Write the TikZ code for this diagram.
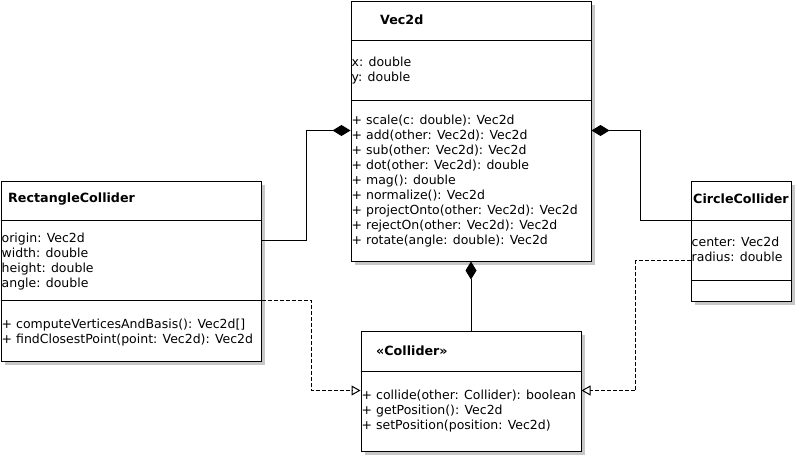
\documentclass[tikz,border=0pt]{standalone}
\usepackage{fontspec}
\setmainfont{DejaVu Sans}
\usetikzlibrary{arrows.meta,shadows}

\begin{document}
\begin{tikzpicture}[x=1pt, y=-1pt,
		classbox/.style={draw, line width=1pt, fill=white, anchor=north west, inner sep=0pt,
			drop shadow={shadow xshift=4pt, shadow yshift=-4pt, fill=black!22, opacity=1}},
		classname/.style={anchor=west, inner sep=0pt, font=\fontsize{12.7}{15}\selectfont\bfseries},
		members/.style={anchor=north west, inner sep=0pt, align=left, font=\fontsize{12.5}{15}\selectfont},
		sep/.style={line width=1pt},
		compo/.style={line width=1pt, -{Diamond[length=18pt, width=11pt]}},
		realize/.style={line width=1pt, dash pattern=on 4pt off 2pt, -{Triangle[open, length=9pt, width=10pt]}}]
			\useasboundingbox (0,0) rectangle (795,455);

			% class boxes
			\draw (350.5, 0.5) 		node[classbox, minimum width=240, minimum height=260] 	(vec) 	{};
			\draw (0.5, 180.5) 		node[classbox, minimum width=260, minimum height=180] 	(rect) 	{};
			\draw (690.5, 180.5) 	node[classbox, minimum width=100, minimum height=120] 	(circ) 	{};
			\draw (360.5, 330.5) 	node[classbox, minimum width=220, minimum height=120] 	(coll) 	{};

			\draw[sep] ([yshift=-40]vec.north west) -- ([yshift=-40]vec.north east);
			\draw[sep] ([yshift=-100]vec.north west) -- ([yshift=-100]vec.north east);
			\draw[sep] ([yshift=-40]rect.north west) -- ([yshift=-40]rect.north east);
			\draw[sep] ([yshift=-120]rect.north west) -- ([yshift=-120]rect.north east);
			\draw[sep] ([yshift=-40]circ.north west) -- ([yshift=-40]circ.north east);
			\draw[sep] ([yshift=-100]circ.north west) -- ([yshift=-100]circ.north east);
			\draw[sep] ([yshift=-41]coll.north west) -- ([yshift=-41]coll.north east);

			% texts
			\draw (380, 20) 		node[classname] 	(vecname) 	{Vec2d};
			\draw (351.5, 57) 		node[members] 		(vecattr) 	{x: double\\y: double};
			\draw (351.5, 115) 		node[members] 		(vecops) 	{+ scale(c: double): Vec2d\\+ add(other: Vec2d): Vec2d\\+ sub(other: Vec2d): Vec2d\\+ dot(other: Vec2d): double\\+ mag(): double\\+ normalize(): Vec2d\\+ projectOnto(other: Vec2d): Vec2d\\+ rejectOn(other: Vec2d): Vec2d\\+ rotate(angle: double): Vec2d};
			\draw (8, 199) 			node[classname] 	(rectname) 	{RectangleCollider};
			\draw (1.5, 233) 		node[members] 		(rectattr) 	{origin: Vec2d\\width: double\\height: double\\angle: double};
			\draw (1.5, 319) 		node[members] 		(rectops) 	{+ computeVerticesAndBasis(): Vec2d[]\\+ findClosestPoint(point: Vec2d): Vec2d};
			\draw (693, 199) 		node[classname] 	(circname) 	{CircleCollider};
			\draw (691.5, 237) 		node[members] 		(circattr) 	{center: Vec2d\\radius: double};
			\draw (376, 351) 		node[classname] 	(collname) 	{«Collider»};
			\draw (361.5, 390) 		node[members] 		(collops) 	{+ collide(other: Collider): boolean\\+ getPosition(): Vec2d\\+ setPosition(position: Vec2d)};

			% relations
			\draw[compo] ([yshift=-60]rect.north east) -- ++(45,0) |- ([yshift=-130]vec.north west);
			\draw[compo] ([yshift=-40]circ.north west) -- ++(-50,0) |- ([yshift=-130]vec.north east);
			\draw[compo] (coll.north) -- (vec.south);
			\draw[realize] ([yshift=-120]rect.north east) -- ++(50,0) |- ([yshift=-60]coll.north west);
			\draw[realize] ([yshift=-80]circ.north west) -- ++(-55,0) |- ([yshift=-60]coll.north east);
		\end{tikzpicture}
\end{document}
